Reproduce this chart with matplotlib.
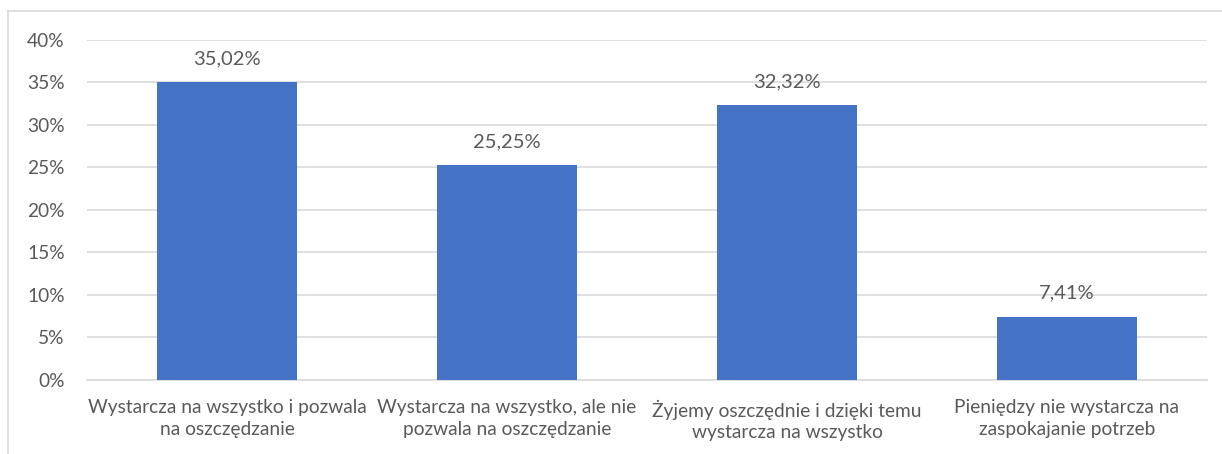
import matplotlib.pyplot as plt
from matplotlib.lines import Line2D
import numpy as np

# dane z wykresu
kategorie = [
    "Wystarcza na wszystko i pozwala\nna oszczędzanie",
    "Wystarcza na wszystko, ale nie\npozwala na oszczędzanie",
    "Żyjemy oszczędnie i dzięki temu\nwystarcza na wszystko",
    "Pieniędzy nie wystarcza na\nzaspokajanie potrzeb",
]
wartosci = [35.02, 25.25, 32.32, 7.41]
etykiety = ["35,02%", "25,25%", "32,32%", "7,41%"]
yticks = [0, 5, 10, 15, 20, 25, 30, 35, 40]

plt.rcParams['font.family'] = ['Lato', 'DejaVu Sans']
szary = '#595959'

fig = plt.figure(figsize=(12.22, 4.54), dpi=100)
ax = fig.add_axes([0.0712, 0.163, 0.9165, 0.749])

x = np.arange(len(kategorie))
ax.bar(x, wartosci, width=0.5, color='#4472C4', zorder=3)

# etykiety nad slupkami
for xi, v, e in zip(x, wartosci, etykiety):
    ax.annotate(e, (xi, v), xytext=(0, 11), textcoords='offset points',
                ha='center', va='bottom', fontsize=14.5, color=szary)

ax.set_xlim(-0.5, len(kategorie) - 0.5)
ax.set_ylim(0, 40)
ax.set_yticks(yticks)
ax.set_yticklabels([f"{t}%" for t in yticks])
ax.set_xticks(x)
ax.set_xticklabels(kategorie, linespacing=1.35)
ax.tick_params(axis='both', length=0, labelsize=13.8, colors=szary)
ax.tick_params(axis='y', pad=16)
ax.tick_params(axis='x', pad=14)
ax.grid(axis='y', color='#D9D9D9', linewidth=1.2, zorder=0)
for s in ['top', 'right', 'left']:
    ax.spines[s].set_visible(False)
ax.spines['bottom'].set_color('#D9D9D9')
ax.spines['bottom'].set_linewidth(1.2)

# ramka wykresu (widoczna tylko gora i lewa strona)
fig.add_artist(Line2D([8 / 1222, 1.0], [1 - 11 / 454, 1 - 11 / 454],
                      transform=fig.transFigure, color='#D9D9D9', linewidth=1.2))
fig.add_artist(Line2D([8 / 1222, 8 / 1222], [0.0, 1 - 11 / 454],
                      transform=fig.transFigure, color='#D9D9D9', linewidth=1.2))

fig.savefig("out.png", dpi=100)
